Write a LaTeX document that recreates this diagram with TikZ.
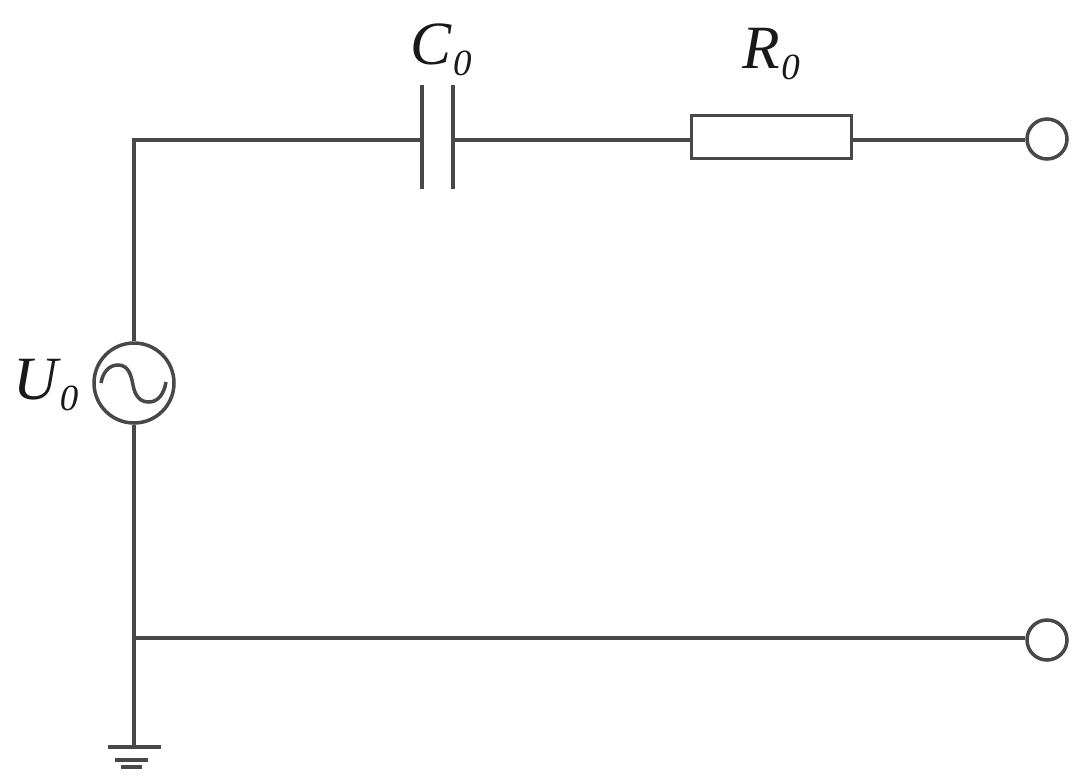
\documentclass[tikz,border=0pt]{standalone}
\usepackage{fontspec}
\setmainfont{Liberation Serif}
\usepackage{xcolor}
\definecolor{wirecol}{HTML}{484848}
\newcommand{\elemname}[2]{{\fontsize{35}{35}\selectfont\itshape #1\kern0.03em\raisebox{-0.17em}{\fontsize{21}{21}\selectfont #2}}}

\begin{document}
\begin{tikzpicture}[x=0.02cm, y=-0.02cm]

			% Styles
			\tikzstyle{wire} = [draw=wirecol, line width=2pt]
			\tikzstyle{plate} = [draw=wirecol, line width=2pt]
			\tikzstyle{resistor} = [rectangle, draw=wirecol, line width=2pt, fill=white, minimum width=3.2cm, minimum height=0.86cm, inner sep=0pt]
			\tikzstyle{source} = [circle, draw=wirecol, line width=2pt, fill=white, minimum size=1.6cm, inner sep=0pt]
			\tikzstyle{terminal} = [circle, draw=wirecol, line width=2pt, fill=white, minimum size=0.8cm, inner sep=0pt]
			\tikzstyle{elemlabel} = [inner sep=0pt, text=black!90]

			\useasboundingbox (0,0) rectangle (1088,782);

			% Nodes
			\node[source] (u0) at (134,383) {};
			\node[resistor] (r0) at (771.5,137) {};
			\node[terminal] (top) at (1047,139) {};
			\node[terminal] (bottom) at (1047,640) {};
			\coordinate (corner) at (134,140);
			\coordinate (c0left) at (422,140);
			\coordinate (c0right) at (453,140);
			\coordinate (junction) at (134,638);
			\coordinate (earth) at (134,747);

			% Labels
			\node[elemlabel] (c0label) at (441,50) {\elemname{C}{0}};
			\node[elemlabel] (r0label) at (771,54) {\elemname{R}{0}};
			\node[elemlabel] (u0label) at (46,385) {\elemname{U}{0}};

			% Capacitor plates
			\draw[plate] (c0left) ++(0,-55) -- ++(0,104);
			\draw[plate] (c0right) ++(0,-55) -- ++(0,104);

			% Wires
			\draw[wire] (u0) -- (corner) -- (c0left);
			\draw[wire] (c0right) -- (r0.west |- c0right);
			\draw[wire] (r0.east |- c0right) -- (top.west |- c0right);
			\draw[wire] (u0) -- (earth);
			\draw[wire] (junction) -- (bottom.west |- junction);

			% Sine
			\draw[plate] (101,383) .. controls (103,371) and (110,365) .. (118,365)
				.. controls (128,365) and (131,374) .. (133,385)
				.. controls (135,396) and (140,402) .. (149,402)
				.. controls (158,402) and (164,394) .. (166,382);

			% Earth bars
			\draw[plate] (earth) ++(-26,0) -- ++(53,0);
			\draw[plate] (earth) ++(-19,13) -- ++(33,0);
			\draw[plate] (earth) ++(-13,20) -- ++(21,0);

		\end{tikzpicture}
\end{document}
